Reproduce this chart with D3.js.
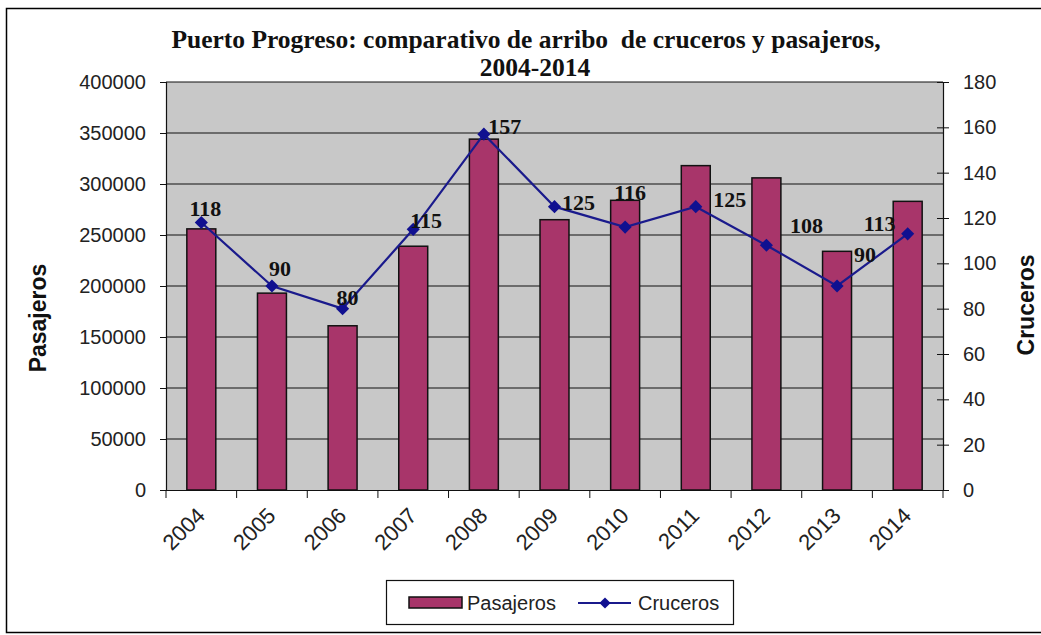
<!DOCTYPE html>
<html>
<head>
<meta charset="utf-8">
<script src="https://cdn.jsdelivr.net/npm/d3@7"></script>
<style>
  body { margin: 0; background: #fff; }
  svg { display: block; }
</style>
</head>
<body>
<script>
// chart values
var years = ["2004", "2005", "2006", "2007", "2008", "2009", "2010", "2011", "2012", "2013", "2014"];
var pasajeros = [256000, 193000, 161000, 239000, 344000, 265000, 284000, 318000, 306000, 234000, 283000];
var cruceros = [118, 90, 80, 115, 157, 125, 116, 125, 108, 90, 113];
var leftTicks = [0, 50000, 100000, 150000, 200000, 250000, 300000, 350000, 400000];
var rightTicks = [0, 20, 40, 60, 80, 100, 120, 140, 160, 180];

// where each data label sits relative to its point (hand placed in the original)
var labelShift = [[4, -7], [8, -10], [5, -4], [13, -1], [21, 0], [24, 3], [5, -27], [34, 0], [40, -12], [28, -24], [-28, -3]];

const w = 1041;
const h = 635;
const plot = { left: 166, right: 943, top: 82, bottom: 490 };

const svg = d3.select("body")
    .append("svg")
    .attr("width", w)
    .attr("height", h);

// outer frame
svg.append("rect")
    .attr("x", 6.5).attr("y", 8.5)
    .attr("width", w + 10).attr("height", 624)
    .attr("fill", "#fff")
    .attr("stroke", "#000")
    .attr("stroke-width", 1.5);

const x = d3.scaleBand()
    .domain(years)
    .range([plot.left, plot.right])
    .paddingInner(0.59)
    .paddingOuter(0.295);

const band = d3.scaleBand().domain(years).range([plot.left, plot.right]);

const yLeft = d3.scaleLinear().domain([0, 400000]).range([plot.bottom, plot.top]);
const yRight = d3.scaleLinear().domain([0, 180]).range([plot.bottom, plot.top]);

// plot area
svg.append("rect")
    .attr("x", plot.left).attr("y", plot.top)
    .attr("width", plot.right - plot.left)
    .attr("height", plot.bottom - plot.top)
    .attr("fill", "#c8c8c8");

// gridlines
svg.append("g")
    .selectAll("line")
    .data(leftTicks.slice(1))
    .enter()
    .append("line")
    .attr("x1", plot.left).attr("x2", plot.right)
    .attr("y1", (d) => yLeft(d)).attr("y2", (d) => yLeft(d))
    .attr("stroke", "#111")
    .attr("stroke-width", 1.2);

// bars
svg.selectAll("rect.bar")
    .data(pasajeros)
    .enter()
    .append("rect")
    .attr("class", "bar")
    .attr("x", (d, i) => x(years[i]))
    .attr("y", (d) => yLeft(d))
    .attr("width", x.bandwidth())
    .attr("height", (d) => plot.bottom - yLeft(d))
    .attr("fill", "#a8356a")
    .attr("stroke", "#111")
    .attr("stroke-width", 1.5);

// axes
const tickFont = "'Liberation Sans', Arial, sans-serif";

const leftAxis = svg.append("g")
    .attr("transform", "translate(" + plot.left + ",0)")
    .call(d3.axisLeft(yLeft).tickValues(leftTicks).tickSize(6).tickPadding(14).tickFormat(d3.format("d")));
leftAxis.selectAll(".tick line").attr("x2", -6).attr("x1", 0);

const rightAxis = svg.append("g")
    .attr("transform", "translate(" + plot.right + ",0)")
    .call(d3.axisRight(yRight).tickValues(rightTicks).tickSize(6).tickPadding(14));
rightAxis.selectAll(".tick line").attr("x1", -6);

const bottomAxis = svg.append("g")
    .attr("transform", "translate(0," + plot.bottom + ")")
    .call(d3.axisBottom(band).tickSize(0).tickFormat(""));

// tick marks at category boundaries
svg.append("g")
    .selectAll("line")
    .data(years.concat(["end"]))
    .enter()
    .append("line")
    .attr("x1", (d, i) => plot.left + i * band.bandwidth())
    .attr("x2", (d, i) => plot.left + i * band.bandwidth())
    .attr("y1", plot.bottom)
    .attr("y2", plot.bottom + 8)
    .attr("stroke", "#111");

[leftAxis, rightAxis, bottomAxis].forEach(function (g) {
    g.select(".domain").attr("stroke", "#111").attr("stroke-width", 1.2);
    g.selectAll(".tick line").attr("stroke", "#111");
    g.selectAll("text")
        .attr("fill", "#222")
        .style("font-family", tickFont)
        .style("font-size", "20px");
});

// rotated year labels
svg.append("g")
    .selectAll("text")
    .data(years)
    .enter()
    .append("text")
    .attr("transform", (d) => "translate(" + (band(d) + band.bandwidth() / 2 + 5) + "," + (plot.bottom + 27) + ") rotate(-45)")
    .style("text-anchor", "end")
    .style("font-family", tickFont)
    .style("font-size", "22px")
    .attr("fill", "#222")
    .text((d) => d);

// cruceros line
const cx = (i) => band(years[i]) + band.bandwidth() / 2;

svg.append("path")
    .datum(cruceros)
    .attr("d", d3.line().x((d, i) => cx(i)).y((d) => yRight(d)))
    .attr("fill", "none")
    .attr("stroke", "#1a1a8c")
    .attr("stroke-width", 2.2);

svg.append("g")
    .selectAll("path")
    .data(cruceros)
    .enter()
    .append("path")
    .attr("transform", (d, i) => "translate(" + cx(i) + "," + yRight(d) + ")")
    .attr("d", d3.symbol().type(d3.symbolDiamond2).size(110))
    .attr("fill", "#101090");

// data labels
svg.append("g")
    .selectAll("text")
    .data(cruceros)
    .enter()
    .append("text")
    .attr("x", (d, i) => cx(i) + labelShift[i][0])
    .attr("y", (d, i) => yRight(d) + labelShift[i][1])
    .style("text-anchor", "middle")
    .style("font-family", "'Liberation Serif', 'Times New Roman', serif")
    .style("font-weight", "bold")
    .style("font-size", "22px")
    .attr("fill", "#111")
    .text((d) => d);

// title
const title = svg.append("text")
    .attr("x", 526)
    .attr("y", 48)
    .style("text-anchor", "middle")
    .style("font-family", "'Liberation Serif', 'Times New Roman', serif")
    .style("font-weight", "bold")
    .style("font-size", "25.5px")
    .attr("fill", "#111");
title.append("tspan").attr("x", 526).text("Puerto Progreso: comparativo de arribo\u00a0 de cruceros y pasajeros,");
title.append("tspan").attr("x", 535).attr("dy", 28).text("2004-2014");

// axis titles
svg.append("text")
    .attr("transform", "translate(46,318) rotate(-90)")
    .style("text-anchor", "middle")
    .style("font-family", tickFont)
    .style("font-weight", "bold")
    .style("font-size", "23px")
    .attr("fill", "#111")
    .text("Pasajeros");

svg.append("text")
    .attr("transform", "translate(1034,305) rotate(-90)")
    .style("text-anchor", "middle")
    .style("font-family", tickFont)
    .style("font-weight", "bold")
    .style("font-size", "23px")
    .attr("fill", "#111")
    .text("Cruceros");

// legend
const legend = svg.append("g");
legend.append("rect")
    .attr("x", 386.5).attr("y", 580.5)
    .attr("width", 347).attr("height", 44)
    .attr("fill", "#fff")
    .attr("stroke", "#111")
    .attr("stroke-width", 1.2);
legend.append("rect")
    .attr("x", 409).attr("y", 597)
    .attr("width", 53).attr("height", 11)
    .attr("fill", "#a8356a")
    .attr("stroke", "#111")
    .attr("stroke-width", 1.5);
legend.append("text")
    .attr("x", 467).attr("y", 610)
    .style("font-family", tickFont)
    .style("font-size", "20px")
    .attr("fill", "#222")
    .text("Pasajeros");
legend.append("line")
    .attr("x1", 578).attr("x2", 631)
    .attr("y1", 603).attr("y2", 603)
    .attr("stroke", "#1a1a8c")
    .attr("stroke-width", 2.2);
legend.append("path")
    .attr("transform", "translate(605,603)")
    .attr("d", d3.symbol().type(d3.symbolDiamond2).size(80))
    .attr("fill", "#101090");
legend.append("text")
    .attr("x", 638).attr("y", 610)
    .style("font-family", tickFont)
    .style("font-size", "20px")
    .attr("fill", "#222")
    .text("Cruceros");
</script>
</body>
</html>
